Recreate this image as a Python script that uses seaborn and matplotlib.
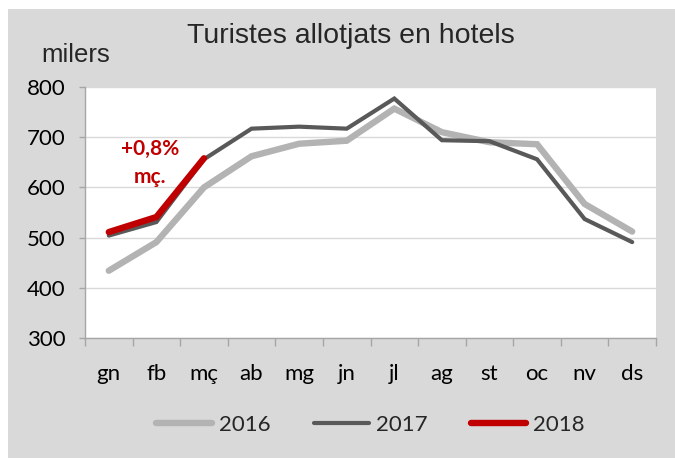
import numpy as np
import pandas as pd
import matplotlib
matplotlib.use("Agg")
import matplotlib.pyplot as plt
from matplotlib.patches import Rectangle
import seaborn as sns

# Data (thousands)
months = ["gn", "fb", "mç", "ab", "mg", "jn", "jl", "ag", "st", "oc", "nv", "ds"]
tur_2016 = [434, 491, 600, 662, 687, 693, 757, 710, 690, 686, 567, 512]
tur_2017 = [504, 531, 656, 717, 721, 717, 777, 694, 692, 656, 537, 491]
tur_2018 = [511, 541, 658]

sns.set_theme(style="white")
plt.rcParams["font.family"] = ["Lato", "DejaVu Sans"]

bg = "#D9D9D9"
W, H = 675, 458
fig = plt.figure(figsize=(W / 100, H / 100), dpi=100, facecolor="white")
# gray chart area with a thin white margin on top and left
fig.patches.append(Rectangle((8 / W, 0), 1, 1 - 9 / H, transform=fig.transFigure,
                             facecolor=bg, edgecolor="none", zorder=-10))

ax = fig.add_axes([85 / W, 1 - 338 / H, (656 - 85) / W, (338 - 87) / H])
ax.set_facecolor("white")

pos = np.arange(len(months))
series = [
    ("2016", tur_2016, "#B3B3B3", 4.6),
    ("2017", tur_2017, "#595959", 3.0),
    ("2018", tur_2018, "#C00000", 4.6),
]
for label, vals, col, lw in series:
    df = pd.DataFrame({"pos": pos[:len(vals)], "val": vals})
    sns.lineplot(data=df, x="pos", y="val", ax=ax, color=col, linewidth=lw,
                 label=label, solid_capstyle="round", solid_joinstyle="miter")

ax.set_xlim(-0.5, 11.5)
ax.set_ylim(300, 800)
ax.set_yticks(range(300, 801, 100))
ax.set_xticks(pos)
ax.set_xticklabels(months)
ax.set_xticks(np.arange(-0.5, 12, 1), minor=True)
ax.set_xlabel("")
ax.set_ylabel("")
ax.tick_params(axis="both", labelsize=16, colors="#000000")
ax.tick_params(axis="y", length=4, width=1, color="#A6A6A6", direction="out", left=True, pad=10)
ax.tick_params(axis="x", which="major", length=0, pad=19)
ax.tick_params(axis="x", which="minor", length=6, width=1, color="#A6A6A6", direction="out", bottom=True)
ax.grid(axis="y", color="#D9D9D9", linewidth=1)
for s in ["top", "right"]:
    ax.spines[s].set_visible(False)
for s in ["left", "bottom"]:
    ax.spines[s].set_color("#A6A6A6")
    ax.spines[s].set_linewidth(1)

ax.text(0.86, 648, "+0,8%\nmç.", color="#C00000", fontsize=15, fontweight="bold",
        ha="center", va="center", linespacing=1.5)

fig.text(351 / W, 1 - 36 / H, "Turistes allotjats en hotels", ha="center", va="center",
         fontsize=20.5, family="Liberation Sans")
fig.text(76 / W, 1 - 55 / H, "milers", ha="center", va="center", fontsize=18.5,
         family="Liberation Sans")

leg = ax.legend(loc="center", bbox_to_anchor=(0.5, (-(425 - 338)) / (338 - 87)), ncol=3,
                frameon=False, fontsize=16, handlelength=2.5, handletextpad=0.3,
                columnspacing=1.95)

fig.savefig("out.png", dpi=100, facecolor="white")
